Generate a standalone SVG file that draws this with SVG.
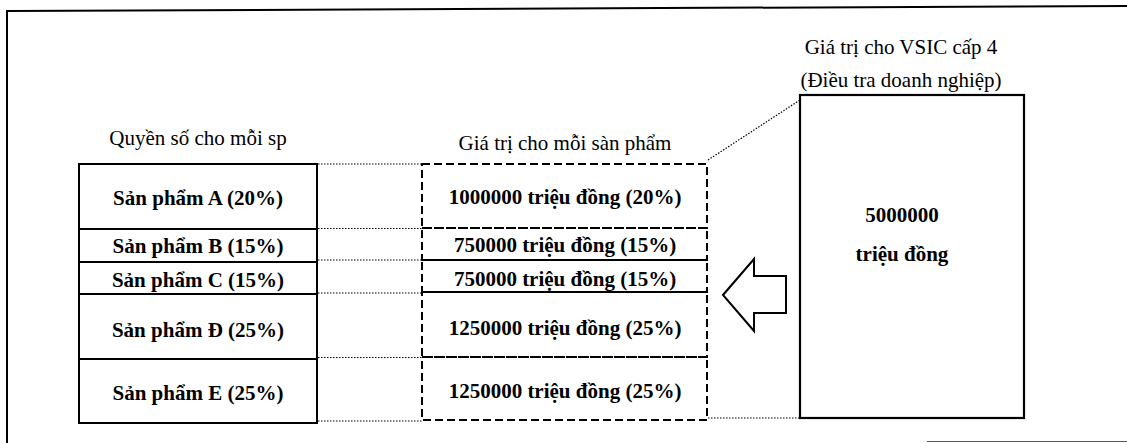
<svg xmlns="http://www.w3.org/2000/svg" width="1127" height="443" viewBox="0 0 1127 443">
<style>
text{font-family:"Liberation Serif","Times New Roman",serif;fill:#000;}
.h{font-size:21px;}
.b{font-size:21px;font-weight:bold;}
.solid{fill:none;stroke:#000;stroke-width:2;}
.dash{fill:none;stroke:#000;stroke-width:2;stroke-dasharray:8 4;}
.dot{fill:none;stroke:#000;stroke-width:1.2;stroke-dasharray:1.5 1.5;}
</style>
<rect width="1127" height="443" fill="#fff"/>
<g id="frame">
<line x1="7" y1="11" x2="1127" y2="6" stroke="#000" stroke-width="2"/>
<line x1="7" y1="10" x2="7" y2="443" stroke="#000" stroke-width="2"/>
<line x1="927" y1="441.5" x2="1127" y2="441.5" stroke="#555" stroke-width="1"/>
</g>
<g id="weights">
<text class="h" x="198" y="145" text-anchor="middle">Quyền số cho mỗi sp</text>
<g id="weight-a"><rect class="solid" x="79" y="164" width="238" height="65"/><text class="b" x="198" y="205" text-anchor="middle">Sản phẩm A (20%)</text></g>
<g id="weight-b"><rect class="solid" x="79" y="229" width="238" height="33"/><text class="b" x="198" y="253" text-anchor="middle">Sản phẩm B (15%)</text></g>
<g id="weight-c"><rect class="solid" x="79" y="262" width="238" height="32"/><text class="b" x="198" y="287" text-anchor="middle">Sản phẩm C (15%)</text></g>
<g id="weight-d"><rect class="solid" x="79" y="294" width="238" height="65"/><text class="b" x="198" y="337" text-anchor="middle">Sản phẩm Đ (25%)</text></g>
<g id="weight-e"><rect class="solid" x="79" y="359" width="238" height="64"/><text class="b" x="198" y="400" text-anchor="middle">Sản phẩm E (25%)</text></g>
</g>
<g id="values">
<text class="h" x="565" y="150" text-anchor="middle">Giá trị cho mỗi sàn phẩm</text>
<g id="value-a"><rect class="dash" x="422" y="164" width="285" height="64"/><text class="b" x="565" y="204" text-anchor="middle">1000000 triệu đồng (20%)</text></g>
<g id="value-b"><rect class="dash" x="422" y="228" width="285" height="32"/><text class="b" x="565" y="252" text-anchor="middle">750000 triệu đồng (15%)</text></g>
<g id="value-c"><rect class="dash" x="422" y="260" width="285" height="32"/><text class="b" x="565" y="286" text-anchor="middle">750000 triệu đồng (15%)</text></g>
<g id="value-d"><rect class="dash" x="422" y="292" width="285" height="65"/><text class="b" x="565" y="335" text-anchor="middle">1250000 triệu đồng (25%)</text></g>
<g id="value-e"><rect class="dash" x="422" y="357" width="285" height="63"/><text class="b" x="565" y="398" text-anchor="middle">1250000 triệu đồng (25%)</text></g>
</g>
<g id="total">
<text class="h" x="901" y="54" text-anchor="middle">Giá trị cho VSIC cấp 4</text>
<text class="h" x="901" y="87" text-anchor="middle">(Điều tra doanh nghiệp)</text>
<rect x="800" y="95" width="224" height="323" fill="none" stroke="#000" stroke-width="2.2"/>
<text class="b" x="902" y="222" text-anchor="middle">5000000</text>
<text class="b" x="902" y="261" text-anchor="middle">triệu đồng</text>
</g>
<g id="arrow">
<polygon points="723,295 754,259 754,276 786,276 786,313 754,313 754,331" fill="#fff" stroke="#000" stroke-width="2" stroke-linejoin="miter"/>
</g>
<g id="connectors">
<line class="dot" x1="318" y1="164" x2="422" y2="164"/>
<line class="dot" x1="318" y1="228.5" x2="422" y2="228.5"/>
<line class="dot" x1="318" y1="260" x2="422" y2="260"/>
<line class="dot" x1="318" y1="293" x2="422" y2="293"/>
<line class="dot" x1="318" y1="357.5" x2="422" y2="357.5"/>
<line class="dot" x1="318" y1="421" x2="422" y2="421"/>
<line class="dot" x1="708" y1="160" x2="800" y2="100"/>
<line class="dot" x1="708" y1="418" x2="800" y2="418"/>
</g>
</svg>
